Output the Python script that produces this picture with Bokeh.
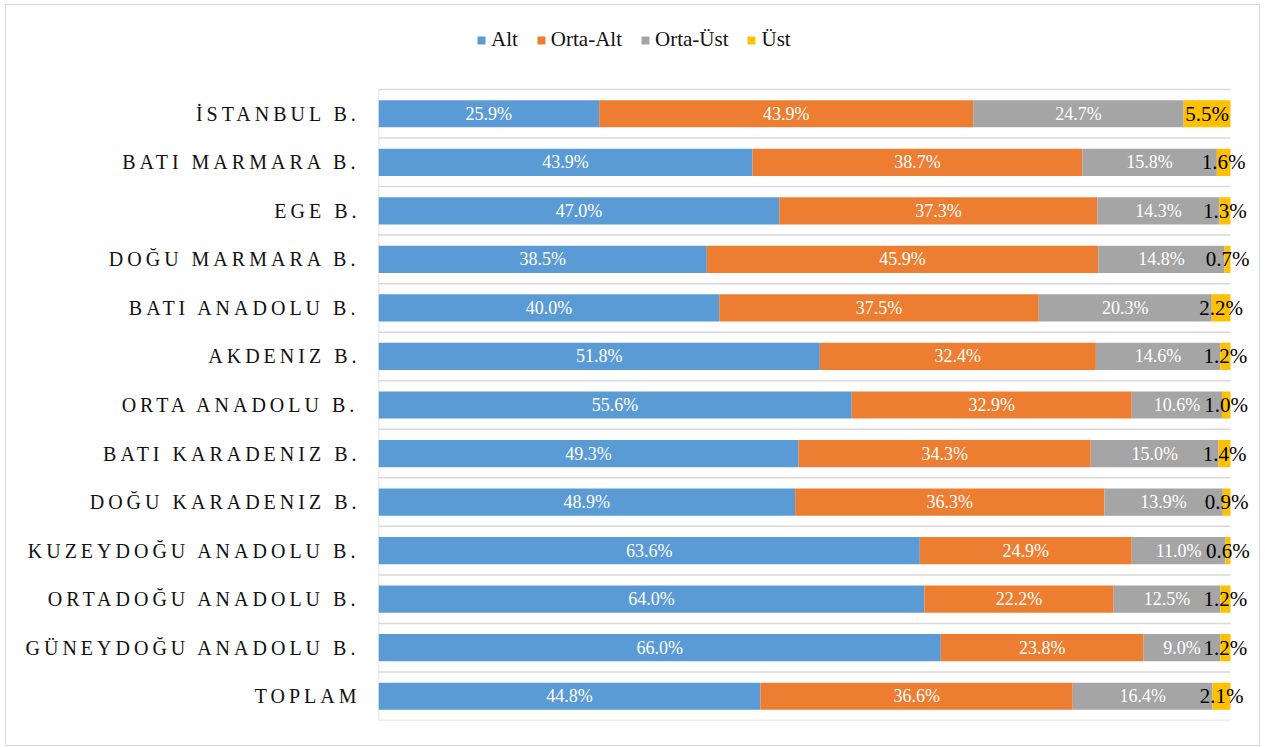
from bokeh.plotting import figure
from bokeh.layouts import row
from bokeh.models import ColumnDataSource, Range1d
from bokeh.core.properties import value
from bokeh.embed import file_html
from bokeh.resources import INLINE

regions = ["İSTANBUL B.", "BATI MARMARA B.", "EGE B.", "DOĞU MARMARA B.",
           "BATI ANADOLU B.", "AKDENIZ B.", "ORTA ANADOLU B.", "BATI KARADENIZ B.",
           "DOĞU KARADENIZ B.", "KUZEYDOĞU ANADOLU B.", "ORTADOĞU ANADOLU B.",
           "GÜNEYDOĞU ANADOLU B.", "TOPLAM"]
series_names = ["Alt", "Orta-Alt", "Orta-Üst", "Üst"]
alt = [25.9, 43.9, 47.0, 38.5, 40.0, 51.8, 55.6, 49.3, 48.9, 63.6, 64.0, 66.0, 44.8]
orta_alt = [43.9, 38.7, 37.3, 45.9, 37.5, 32.4, 32.9, 34.3, 36.3, 24.9, 22.2, 23.8, 36.6]
orta_ust = [24.7, 15.8, 14.3, 14.8, 20.3, 14.6, 10.6, 15.0, 13.9, 11.0, 12.5, 9.0, 16.4]
ust = [5.5, 1.6, 1.3, 0.7, 2.2, 1.2, 1.0, 1.4, 0.9, 0.6, 1.2, 1.2, 2.1]
colors = ["#5B9BD5", "#ED7D31", "#A5A5A5", "#FFC000"]
label_colors = ["white", "white", "white", "black"]
label_sizes = ["18px", "18px", "18px", "21px"]

FONT = "Liberation Serif"
GRID = "#d9d9d9"
LETTER_SP = 4      # px, letter spacing of category labels
LABEL_GAP = 22     # px, gap between category labels and the bars
n = len(regions)
ys = [n - 1 - i for i in range(n)]
series = [alt, orta_alt, orta_ust, ust]

data = {"y": ys}
totals = [sum(s[i] for s in series) for i in range(n)]
left = [0.0] * n
for k, s in enumerate(series):
    widths = [s[i] * 100.0 / totals[i] for i in range(n)]
    data[f"l{k}"] = list(left)
    data[f"r{k}"] = [left[i] + widths[i] for i in range(n)]
    data[f"c{k}"] = [left[i] + widths[i] / 2 for i in range(n)]
    data[f"t{k}"] = [f"{v:.1f}%" for v in s]
    left = data[f"r{k}"]
src = ColumnDataSource(data)

# layout (pixels)
LEFT_W = 372
FRAME_W, FRAME_H = 879, 715
PX_PER_PCT = 8.52
BAND = 631 / n
x_end = FRAME_W / PX_PER_PCT
y_end = -0.5 + FRAME_H / BAND
yr = Range1d(-0.5, y_end)

# ---- left figure: category labels (letter-spaced like the original) ----
cat_src = ColumnDataSource({
    "y": ys,
    "x": [1.0] * n,
    "label": regions,
    # letter-spacing widens text to the right of Bokeh's measured box; shift back
    "off": [-(LABEL_GAP + (len(r) - 1) * LETTER_SP) for r in regions],
})
lf = figure(frame_width=LEFT_W, frame_height=FRAME_H, output_backend="svg",
            toolbar_location=None, x_range=Range1d(0, 1), y_range=yr,
            min_border_left=0, min_border_right=0, min_border_top=0, min_border_bottom=25)
lf.styles = {"letter-spacing": f"{LETTER_SP}px"}
lf.outline_line_color = None
lf.axis.visible = False
lf.grid.visible = False
lf.text(x="x", y="y", text="label", x_offset="off", source=cat_src,
        text_align="right", text_baseline="middle", text_color="#111111",
        text_font=value(FONT), text_font_size="20px")

# ---- main figure: stacked bars ----
p = figure(frame_width=FRAME_W, frame_height=FRAME_H, output_backend="svg",
           toolbar_location=None,
           x_range=Range1d(0, x_end), y_range=yr,
           min_border_left=0, min_border_right=2, min_border_top=0, min_border_bottom=25)
p.outline_line_color = None
p.background_fill_color = "white"
p.border_fill_color = "white"

bounds = [i - 0.5 for i in range(n + 1)]
p.segment(x0=[0] * len(bounds), x1=[100] * len(bounds), y0=bounds, y1=bounds,
          line_color=GRID, line_width=1.5)
p.segment(x0=[0], x1=[0], y0=[bounds[0]], y1=[bounds[-1]], line_color=GRID, line_width=1.5)

for k in range(4):
    p.hbar(y="y", left=f"l{k}", right=f"r{k}", height=0.56, source=src,
           fill_color=colors[k], line_color=None, legend_label=series_names[k])
for k in range(4):
    p.text(x=f"c{k}", y="y", text=f"t{k}", source=src, text_align="center",
           text_baseline="middle", text_color=label_colors[k],
           text_font=value(FONT), text_font_size=label_sizes[k])

p.axis.visible = False
p.grid.visible = False

lg = p.legend[0]
lg.orientation = "horizontal"
lg.location = (98, 668)
lg.border_line_color = None
lg.background_fill_alpha = 0
lg.padding = 0
lg.margin = 0
lg.spacing = 18
lg.glyph_width = 10
lg.glyph_height = 10
lg.label_standoff = 5
lg.label_height = 20
p.legend.label_text_font = FONT
p.legend.label_text_font_size = "21px"
p.legend.label_text_color = "#111111"

layout = row(lf, p, styles={"border": "1px solid #d9d9d9", "margin-left": "5px",
                            "margin-top": "4px"})

open("out.html", "w").write(file_html(layout, INLINE))
